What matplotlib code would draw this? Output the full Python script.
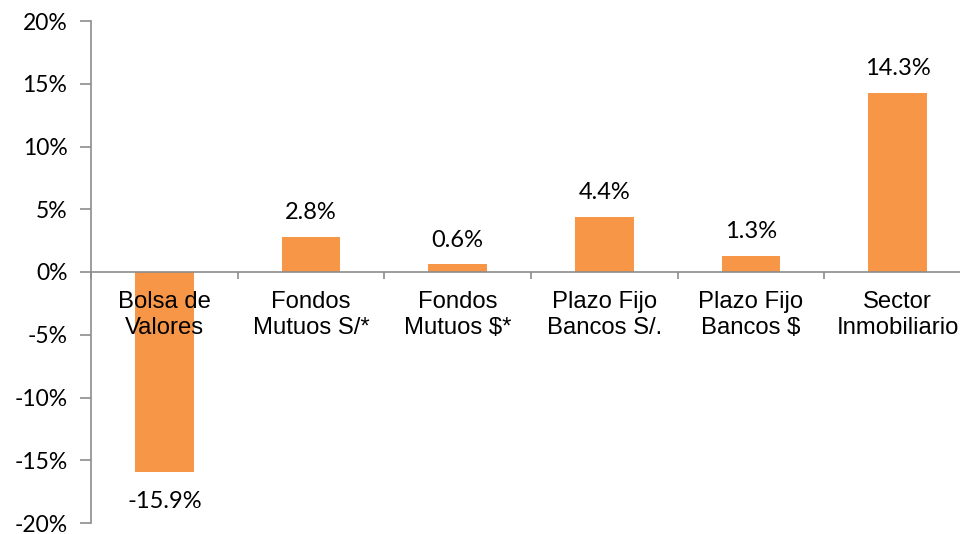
import matplotlib.pyplot as plt
import numpy as np
from matplotlib.ticker import FuncFormatter, FixedLocator

# data
categories = ["Bolsa de\nValores", "Fondos\nMutuos S/*", "Fondos\nMutuos $*",
              "Plazo Fijo\nBancos S/.", "Plazo Fijo\nBancos $", "Sector\nInmobiliario"]
returns = [-15.9, 2.8, 0.6, 4.4, 1.3, 14.3]
y_ticks = [-20, -15, -10, -5, 0, 5, 10, 15, 20]

bar_color = "#F79646"
axis_color = "#8C8C8C"

fig = plt.figure(figsize=(9.6, 5.34), dpi=100)
# axis starts at x=91px and runs past the right edge of the picture
ax = fig.add_axes([91 / 960, 11 / 534, 880 / 960, 502 / 534])
ax.set_axisbelow(False)  # category labels sit on top of the bars

x = np.arange(len(categories))
ax.bar(x, returns, width=0.4, color=bar_color, zorder=2)

ax.set_xlim(-0.5, len(categories) - 0.5)
ax.set_ylim(-20, 20)

# y axis
ax.set_yticks(y_ticks)
ax.yaxis.set_major_formatter(FuncFormatter(lambda v, p: f"{v:.0f}%"))
ax.tick_params(axis="y", direction="out", length=8, width=1.2, color=axis_color,
               labelsize=16.5, pad=9)
for lab in ax.get_yticklabels():
    lab.set_fontfamily("Lato")

# x axis sits on zero
ax.spines["bottom"].set_position(("data", 0))
ax.spines["top"].set_visible(False)
ax.spines["right"].set_visible(False)
for s in ("left", "bottom"):
    ax.spines[s].set_color(axis_color)
    ax.spines[s].set_linewidth(1.2)

ax.set_xticks(x)
ax.set_xticklabels(categories, fontfamily="Liberation Sans", fontsize=17.2,
                   linespacing=1.2)
ax.tick_params(axis="x", which="major", length=0, pad=14)
ax.xaxis.set_minor_locator(FixedLocator(np.arange(len(categories) + 1) - 0.5))
ax.tick_params(axis="x", which="minor", direction="out", length=5, width=1.2,
               color=axis_color)

# value labels
for xi, v in zip(x, returns):
    off = 10 if v >= 0 else -14
    ax.annotate(f"{v:.1f}%", (xi, v), xytext=(0, off), textcoords="offset points",
                ha="center", va="bottom" if v >= 0 else "top",
                fontsize=17, fontfamily="Lato", color="#000000")

fig.savefig("out.png", dpi=100)
